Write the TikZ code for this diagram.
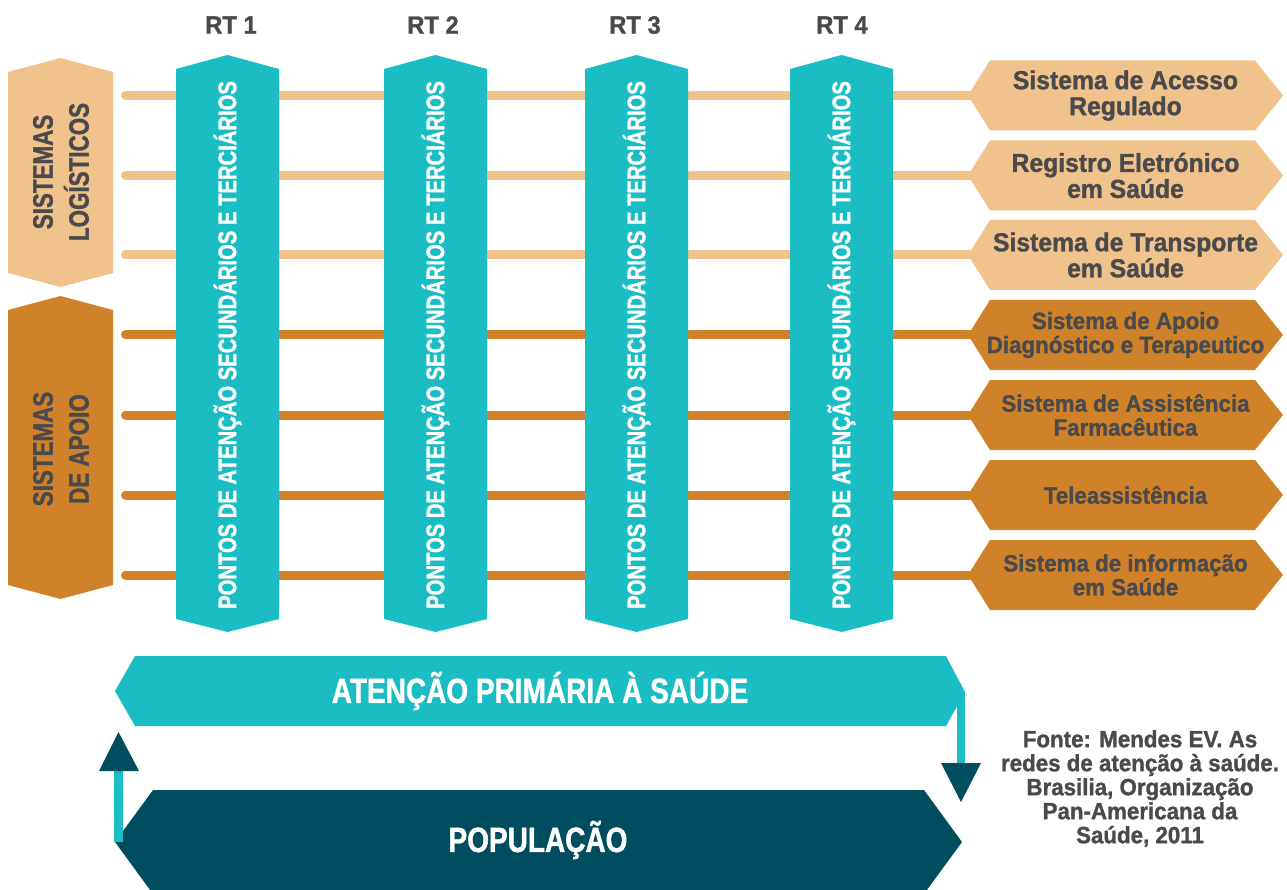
\documentclass[tikz,border=0pt]{standalone}
\usepackage{fontspec}
\newfontfamily\capsf{Liberation Sans}[UprightFont={* Bold},FakeStretch=0.8,FakeBold=1.2]
\newfontfamily\mixsf{Liberation Sans}[UprightFont={* Bold},FakeStretch=0.95,FakeBold=1.2]
\definecolor{tealc}{HTML}{1ABDC4}
\definecolor{darkteal}{HTML}{004D5F}
\definecolor{lightor}{HTML}{F0C28C}
\definecolor{darkor}{HTML}{D0822A}
\definecolor{graytxt}{HTML}{4A4A4C}
\tikzset{
  sidelabel/.style={rotate=90, text=graytxt, align=center, inner sep=0pt, font=\capsf\fontsize{28}{36}\selectfont},
  coltext/.style={rotate=90, text=white, inner sep=0pt, font=\capsf\fontsize{25.3}{27}\selectfont},
  rtlabel/.style={text=graytxt, inner sep=0pt, font=\mixsf\fontsize{25}{27}\selectfont},
  hexlight/.style={text=graytxt, align=center, inner sep=0pt, font=\mixsf\fontsize{26}{26}\selectfont},
  hexdark/.style={text=graytxt, align=center, inner sep=0pt, font=\mixsf\fontsize{23.5}{24}\selectfont},
  bandtext/.style={text=white, inner sep=0pt, font=\capsf\fontsize{35}{37}\selectfont},
  srctext/.style={text=graytxt, align=center, inner sep=0pt, font=\mixsf\fontsize{23.5}{24}\selectfont},
  lightline/.style={draw=lightor, line width=9pt, line cap=round},
  darkline/.style={draw=darkor, line width=9pt, line cap=round},
}
\begin{document}
\begin{tikzpicture}[x=1pt,y=-1pt]
\useasboundingbox (0,0) rectangle (1287,890);
\clip (0,0) rectangle (1287,890);

% left side boxes
\fill[lightor] (60.5,58) -- (113,72) -- (113,273) -- (60.5,287) -- (8,273) -- (8,72) -- cycle;
\node[sidelabel] (slog) at (61,172) {SISTEMAS\\LOGÍSTICOS};
\fill[darkor] (60.5,296) -- (113,310) -- (113,585) -- (60.5,599) -- (8,585) -- (8,310) -- cycle;
\node[sidelabel] (sapo) at (61,449) {SISTEMAS\\DE APOIO};

% horizontal lines
\foreach \i/\y in {1/95.5,2/175.5,3/255} {
  \coordinate (L\i) at (125.5,\y);
  \coordinate (H\i) at (975,\y);
  \path[lightline] (L\i) -- (H\i);
}
\foreach \i/\y in {4/335,5/415,6/495,7/575} {
  \coordinate (L\i) at (125.5,\y);
  \coordinate (H\i) at (975,\y);
  \path[darkline] (L\i) -- (H\i);
}

% columns
\foreach \n/\cx/\rx in {1/227.5/231,2/435.5/433,3/636.5/635,4/841.5/842} {
  \fill[tealc] (\cx,55) -- (\cx+51.5,69) -- (\cx+51.5,619) -- (\cx,632) -- (\cx-51.5,619) -- (\cx-51.5,69) -- cycle;
  \node[coltext] (col\n) at (\cx,345) {PONTOS DE ATENÇÃO SECUNDÁRIOS E TERCIÁRIOS};
  \node[rtlabel] (rt\n) at (\rx,25) {RT \n};
}

% right hexagons
\foreach \c in {95.5,175.5,255,335,415,495,575} {
  \pgfmathsetmacro{\t}{\c-35}
  \pgfmathsetmacro{\b}{\c+35}
  \ifdim \c pt<300pt
    \fill[lightor] (968,\c) -- (990,\t) -- (1255,\t) -- (1283,\c) -- (1255,\b) -- (990,\b) -- cycle;
  \else
    \fill[darkor] (968,\c) -- (990,\t) -- (1255,\t) -- (1283,\c) -- (1255,\b) -- (990,\b) -- cycle;
  \fi
}
\node[hexlight] (h1) at (1125.5,95.5) {Sistema de Acesso\\Regulado};
\node[hexlight] (h2) at (1125.5,175.5) {Registro Eletrónico\\em Saúde};
\node[hexlight] (h3) at (1125.5,255) {Sistema de Transporte\\em Saúde};
\node[hexdark] (h4) at (1125.5,335) {Sistema de Apoio\\Diagnóstico e Terapeutico};
\node[hexdark] (h5) at (1125.5,415) {Sistema de Assistência\\Farmacêutica};
\node[hexdark] (h6) at (1125.5,495) {Teleassistência};
\node[hexdark] (h7) at (1125.5,575) {Sistema de informação\\em Saúde};

% bottom bands
\fill[tealc] (115,691) -- (135,656) -- (946,656) -- (965,692) -- (946,726) -- (135,726) -- cycle;
\node[bandtext] (aps) at (540,691) {ATENÇÃO PRIMÁRIA À SAÚDE};
\fill[darkteal] (115,842) -- (153,790) -- (924,790) -- (962,842) -- (924,894) -- (153,894) -- cycle;
\node[bandtext] (pop) at (538,840) {POPULAÇÃO};

% arrows
\coordinate (apsR) at (961,692);
\coordinate (dnA) at (961,764);
\draw[tealc, line width=8pt] (apsR) -- (dnA);
\fill[darkteal] (941,763) -- (981,763) -- (961,802) -- cycle;
\coordinate (popL) at (118.5,842);
\coordinate (upA) at (118.5,770);
\draw[tealc, line width=9pt] (popL) -- (upA);
\fill[darkteal] (99,771) -- (139,771) -- (118.5,732) -- cycle;

% source
\node[srctext, anchor=north] (src) at (1140,730) {Fonte: Mendes EV. As\\redes de atenção à saúde.\\Brasilia, Organização\\Pan-Americana da\\Saúde, 2011};
\end{tikzpicture}
\end{document}
